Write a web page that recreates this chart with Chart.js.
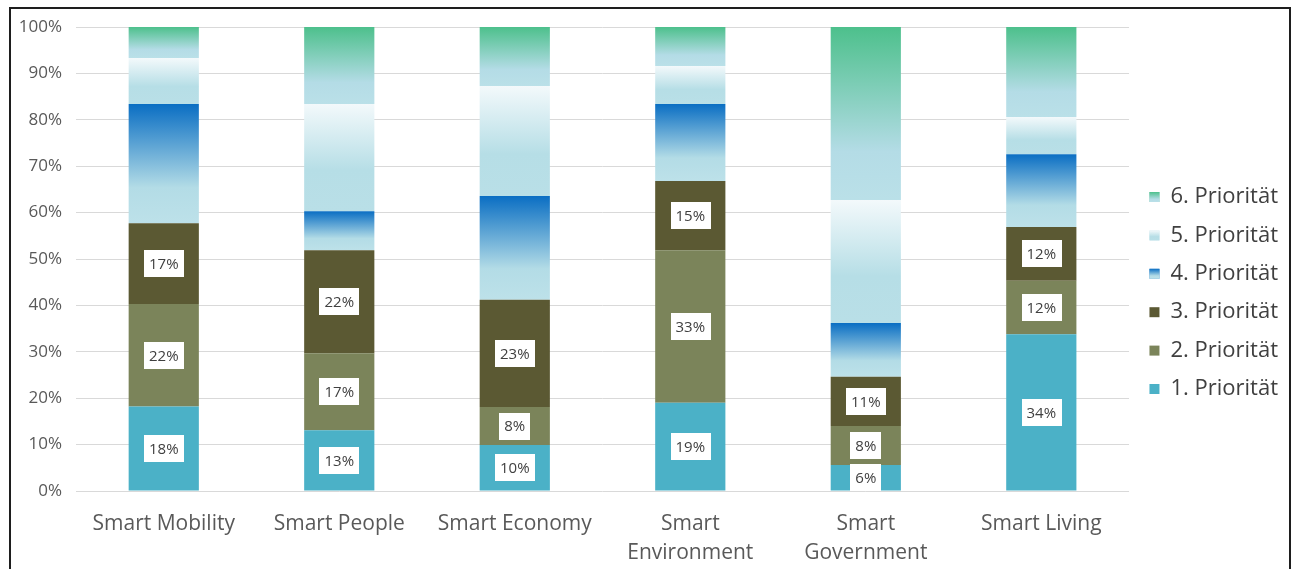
<!DOCTYPE html>
<html><head><meta charset="utf-8">
<script src="https://cdn.jsdelivr.net/npm/chart.js@4.4.1/dist/chart.umd.min.js"></script>
<style>
html,body{margin:0;padding:0;background:#fff;overflow:hidden;width:1300px;height:569px;}
#frame{position:absolute;left:9px;top:7px;width:1282px;height:700px;border:2px solid #1e1e1e;box-sizing:border-box;}
#wrap{position:absolute;left:0;top:0;width:1300px;height:569px;}
</style></head>
<body>
<div id="frame"></div>
<div id="wrap"><canvas id="c" width="1300" height="569"></canvas></div>
<script>
// ---- data ----
const categories = ["Smart Mobility", "Smart People", "Smart Economy", ["Smart", "Environment"], ["Smart", "Government"], "Smart Living"];
const seriesNames = ["1. Priorität", "2. Priorität", "3. Priorität", "4. Priorität", "5. Priorität", "6. Priorität"];
const prio1 = [18.2, 13.1, 9.9, 19.0, 5.6, 33.8];
const prio2 = [22.1, 16.6, 8.2, 32.9, 8.4, 11.5];
const prio3 = [17.4, 22.2, 23.1, 14.9, 10.6, 11.6];
const prio4 = [25.7, 8.4, 22.4, 16.6, 11.6, 15.7];
const prio5 = [9.9, 23.1, 23.7, 8.2, 26.5, 8.0];
const prio6 = [6.7, 16.6, 12.7, 8.4, 37.3, 19.4];
const yTicks = [0, 10, 20, 30, 40, 50, 60, 70, 80, 90, 100];
const labeledSeries = [0, 1, 2];

// ---- styles ----
const FONT = "'Open Sans', 'Noto Sans', sans-serif";
const solidColors = ["#4BB1C7", "#7B845A", "#5B5933", "#3C8FD0", "#CFE9EF", "#7FCBB0"];
const gradStops = [null, null, null,
  [[0, "#0A6EC3"], [0.7, "#B3DCE6"], [1, "#BDE1E9"]],
  [[0, "#F3F9FB"], [0.62, "#B6DEE6"], [1, "#B9DFE7"]],
  [[0, "#4DC08C"], [0.72, "#B4DCE6"], [1, "#BAE0E8"]]
];

function segPixels(ctx) {
  const chart = ctx.chart, d = ctx.datasetIndex, i = ctx.dataIndex;
  let start = 0;
  for (let k = 0; k < d; k++) start += chart.data.datasets[k].data[i];
  const end = start + chart.data.datasets[d].data[i];
  const y = chart.scales.y;
  return [y.getPixelForValue(end), y.getPixelForValue(start)];
}
function fillFor(idx) {
  const stops = gradStops[idx];
  if (!stops) return solidColors[idx];
  return (ctx) => {
    if (ctx.type !== 'data' || !ctx.chart.scales || !ctx.chart.scales.y) return solidColors[idx];
    const [top, bot] = segPixels(ctx);
    if (!isFinite(top) || !isFinite(bot) || top === bot) return solidColors[idx];
    const g = ctx.chart.ctx.createLinearGradient(0, top, 0, bot);
    stops.forEach(([o, c]) => g.addColorStop(o, c));
    return g;
  };
}

const allSeries = [prio1, prio2, prio3, prio4, prio5, prio6];
const datasets = allSeries.map((vals, idx) => ({
  label: seriesNames[idx],
  data: vals,
  backgroundColor: fillFor(idx),
  hoverBackgroundColor: fillFor(idx),
  borderWidth: 0,
  barPercentage: 1,
  categoryPercentage: 0.4
}));

const labelPlugin = {
  id: 'boxLabels',
  afterDatasetsDraw(chart) {
    const c = chart.ctx;
    c.save();
    c.font = "15px " + FONT;
    c.textAlign = 'center';
    c.textBaseline = 'middle';
    labeledSeries.forEach(d => {
      const meta = chart.getDatasetMeta(d);
      meta.data.forEach((el, i) => {
        const v = chart.data.datasets[d].data[i];
        const txt = Math.round(v) + '%';
        const w = c.measureText(txt).width + 10;
        const h = 27;
        const cx = el.x, cy = (el.y + el.base) / 2;
        c.fillStyle = '#FFFFFF';
        c.fillRect(Math.round(cx - w / 2), Math.round(cy - h / 2), Math.round(w), h);
        c.fillStyle = '#404040';
        c.fillText(txt, cx, cy + 1);
      });
    });
    c.restore();
  }
};

const legendGradPlugin = {
  id: 'legendGrad',
  afterDraw(chart) {
    const lg = chart.legend;
    if (!lg || !lg.legendHitBoxes) return;
    const c = chart.ctx;
    const opts = lg.options.labels;
    const fs = opts.font.size;
    const bw = opts.boxWidth, bh = opts.boxHeight;
    lg.legendHitBoxes.forEach((hb, k) => {
      const item = lg.legendItems[k];
      const stops = gradStops[item.datasetIndex];
      if (!stops) return;
      const y0 = hb.top + Math.max((fs - bh) / 2, 0);
      const g = c.createLinearGradient(0, y0, 0, y0 + bh);
      stops.forEach(([o, col]) => g.addColorStop(o, col));
      c.save();
      c.fillStyle = g;
      c.fillRect(hb.left, y0, bw, bh);
      c.restore();
    });
  }
};

new Chart(document.getElementById('c'), {
  type: 'bar',
  data: { labels: categories, datasets },
  plugins: [labelPlugin, legendGradPlugin],
  options: {
    responsive: false,
    animation: false,
    events: [],
    layout: { padding: { left: 20, right: 12, top: 27, bottom: 10 } },
    plugins: {
      tooltip: { enabled: false },
      legend: {
        position: 'right',
        reverse: true,
        labels: {
          font: { family: FONT, size: 22 },
          color: '#404040',
          boxWidth: 10,
          boxHeight: 10,
          padding: 16.4,
          generateLabels: (chart) => Chart.defaults.plugins.legend.labels.generateLabels(chart).map(l => ({
            ...l, fillStyle: solidColors[l.datasetIndex], strokeStyle: 'rgba(0,0,0,0)', lineWidth: 0
          }))
        }
      }
    },
    scales: {
      x: {
        stacked: true,
        grid: { display: false, drawTicks: false },
        border: { display: false },
        ticks: { font: { family: FONT, size: 21, lineHeight: 1.4 }, color: '#595959', padding: 18, maxRotation: 0, autoSkip: false },
        afterFit: (s) => { s.height = 68; s.paddingLeft = 0; s.paddingRight = 0; }
      },
      y: {
        stacked: true,
        min: 0, max: 100,
        afterBuildTicks: (s) => { s.ticks = yTicks.map(v => ({ value: v })); },
        grid: { color: '#D9D9D9', lineWidth: 1, drawTicks: false },
        border: { display: false },
        ticks: { font: { family: FONT, size: 17 }, color: '#595959', padding: 14, callback: v => v + '%' },
        afterFit: (s) => { s.width = 56; s.paddingTop = 0; s.paddingBottom = 0; }
      },
      y2: {
        position: 'right',
        display: true,
        grid: { display: false },
        border: { display: false },
        ticks: { display: false },
        afterFit: (s) => { s.width = 4; }
      }
    }
  }
});
</script>
</body></html>
